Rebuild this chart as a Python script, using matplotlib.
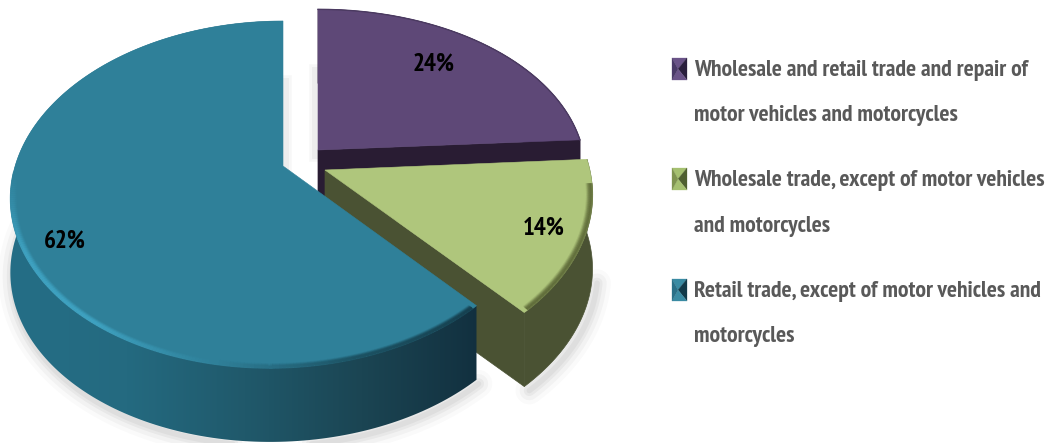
import numpy as np
import matplotlib
matplotlib.use('Agg')
import matplotlib.pyplot as plt
from matplotlib import font_manager as fm
from matplotlib.patches import Polygon
from matplotlib.collections import LineCollection
from matplotlib.colors import LinearSegmentedColormap

labels = [['Wholesale and retail trade and repair of', 'motor vehicles and motorcycles'],
          ['Wholesale trade, except of motor vehicles', 'and motorcycles'],
          ['Retail trade, except of motor vehicles and', 'motorcycles']]
values = [24, 14, 62]
value_labels = ['24%', '14%', '62%']

# narrow face if there is one, otherwise the font size gets fitted below
have = {f.name for f in fm.fontManager.ttflist}
font = next((n for n in ['PT Sans Narrow', 'Fira Sans Condensed', 'Asap Condensed', 'Liberation Sans'] if n in have), 'DejaVu Sans')
plt.rcParams['font.family'] = [font, 'DejaVu Sans']

# perspective of the disc, in pixels
A, B, P, C = 262.5, 168.8, 0.164, 5.4
DEPTH = 74
apex = [(318, 150), (325, 170), (283, 166)]
stretch = [(1.03, 0.97), (1.03, 1.02), (1.0, 1.0)]
top_col = ['#5e4877', '#afc67c', '#2f8099']
wall_col = ['#291c33', '#4a5233', '#12303f']
label_pos = [(434, 71), (544, 235), (65, 248)]
legend_base = [(76, 121), (186, 232), (297, 342)]
key_col = [('#6a5388', '#4a3a68', '#2a1f3d'), ('#a5c070', '#7f9450', '#4f5f30'), ('#3a8ba3', '#2a7088', '#123a4a')]


def rim(i, t0, t1, n=200):
    t = np.radians(np.linspace(t0, t1, n))
    u, v = np.sin(t), np.cos(t)
    w = 1 + P * v
    x = apex[i][0] + stretch[i][0] * (A * u - C * (1 - v)) / w
    y = apex[i][1] - stretch[i][1] * B * v / w
    return np.column_stack([x, y])


def soft_line(pts, centre, cmap, width, z, n=5):
    # bevel: a few lines stepping inwards and fading out
    frac = np.linspace(0, 1, len(pts) - 1)
    for k in range(n):
        f = 1 - (0.8 + k * width / n) / 250
        p = centre + (pts - centre) * f
        segs = np.stack([p[:-1], p[1:]], axis=1)
        cols = cmap(frac)
        cols[:, 3] = 0.9 * (1 - k / n)
        ax.add_collection(LineCollection(segs, colors=cols, linewidths=width / n + 1, zorder=z))


def fit_size(text, target_px, start=20):
    t = ax.text(0, 0, text, fontsize=start, fontweight='bold')
    w = t.get_window_extent(fig.canvas.get_renderer()).width
    t.remove()
    return start * target_px / w


fig = plt.figure(figsize=(10.5, 4.43), dpi=100)
ax = fig.add_axes([0, 0, 1, 1])
ax.axis('off')

angles = np.cumsum([0] + values) / sum(values) * 360
down = np.array([0, DEPTH])
teal_wall = LinearSegmentedColormap.from_list('tw', ['#256e86', '#246a80', '#20596b', '#1b4553', '#12303f'])
teal_bevel = LinearSegmentedColormap.from_list('tb', ['#16404f', '#1c5263', '#2f8099', '#3fa3c2', '#3fa3c2', '#2f8099'])
green_bevel = LinearSegmentedColormap.from_list('gb', ['#5f6b3a', '#5f6b3a'])

# gradient for the teal wall, clipped to the wall shape below
grad = ax.imshow(np.linspace(0, 1, 256).reshape(1, -1), cmap=teal_wall, aspect='auto',
                 extent=(10, 480, 443, 0), zorder=8)
ax.set_xlim(0, 1050)
ax.set_ylim(443, 0)

# soft shadow behind everything
for lw, a in [(20, 0.02), (14, 0.03), (8, 0.04), (4, 0.04)]:
    s = rim(2, angles[2], 300) + down + np.array([2, 4])
    ax.plot(s[:, 0], s[:, 1], color='black', alpha=a, lw=lw, zorder=1, solid_capstyle='round')
    s = rim(1, angles[1] + 15, angles[2]) + down + np.array([5, 4])
    ax.plot(s[:, 0], s[:, 1], color='black', alpha=a, lw=lw, zorder=1, solid_capstyle='round')
# and in the gap between the slices
for lw, a in [(9, 0.03), (5, 0.04)]:
    ax.plot([apex[0][0] - 3] * 2, [apex[0][1] - 80, apex[0][1] + 5], color='black', alpha=a, lw=lw, zorder=1)
    ax.plot([apex[2][0] + 2] * 2, [apex[2][1] - 85, apex[2][1]], color='black', alpha=a, lw=lw, zorder=1)

for i in range(3):
    r = rim(i, angles[i], angles[i + 1])
    a0 = np.array(apex[i], dtype=float)
    z = 2 + i * 3
    wall = np.vstack([r, (r + down)[::-1]])
    if i < 2:
        face = np.vstack([[a0], r[-1:], r[-1:] + down, [a0 + down]])
        ax.add_patch(Polygon(face, closed=True, fc=wall_col[i], ec=wall_col[i], lw=0.5, zorder=z))
        ax.add_patch(Polygon(wall, closed=True, fc=wall_col[i], ec=wall_col[i], lw=0.5, zorder=z))
    else:
        grad.set_clip_path(Polygon(wall, closed=True, transform=ax.transData))
    ax.add_patch(Polygon(np.vstack([[a0], r]), closed=True, fc=top_col[i], ec=top_col[i], lw=0.4, zorder=z + 1))
    if i == 0:
        ax.plot(r[:, 0], r[:, 1], color='#4b3a61', lw=1, zorder=z + 2)
    if i == 1:
        soft_line(rim(1, angles[1] + 8, angles[2] - 1), a0, green_bevel, 5, z + 2)
    if i == 2:
        soft_line(rim(2, angles[2] + 1, 268), np.array([283.0, 190.0]), teal_bevel, 5, z + 2)
    fs = fit_size(value_labels[i], 42)
    x, y = label_pos[i]
    ax.text(x, y, value_labels[i], fontsize=fs, fontweight='bold', color='black',
            ha='center', va='baseline', zorder=20)

# legend keys are small pyramids
key_w, key_h = 15, 22
legend_fs = fit_size(labels[1][0], 351)
for (b1, b2), lab, (light, mid, dark) in zip(legend_base, labels, key_col):
    x0, y0 = 672, b1 - 18
    cx, cy = x0 + key_w * 0.4, y0 + key_h / 2
    corners = [(x0, y0), (x0 + key_w, y0), (x0 + key_w, y0 + key_h), (x0, y0 + key_h)]
    shade = [light, dark, light, mid]
    for k in range(4):
        ax.add_patch(Polygon([corners[k], corners[(k + 1) % 4], (cx, cy)], closed=True,
                             fc=shade[k], ec=shade[k], lw=0.2, zorder=3))
    ax.text(694, b1, lab[0], fontsize=legend_fs, fontweight='bold', color='#595959', va='baseline', ha='left')
    ax.text(694, b2, lab[1], fontsize=legend_fs, fontweight='bold', color='#595959', va='baseline', ha='left')

fig.savefig('out.png', dpi=100)
